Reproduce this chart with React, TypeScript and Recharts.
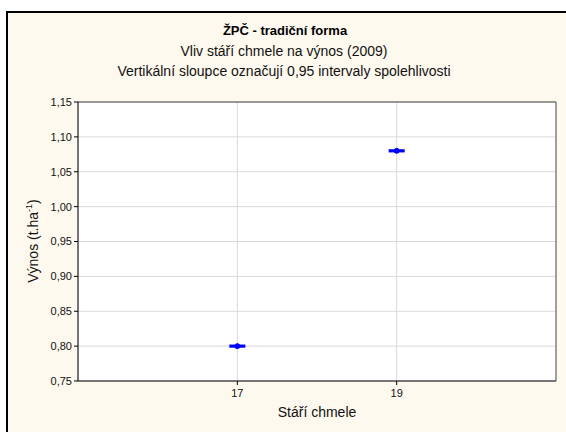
import React from 'react';
import { ComposedChart, Scatter, XAxis, YAxis, CartesianGrid, ErrorBar, ReferenceLine } from 'recharts';

const ages = [17, 19];
const yields = [0.8, 1.08];
const ciErrors = [0.001, 0.001];
const yTicks = [0.75, 0.8, 0.85, 0.9, 0.95, 1.0, 1.05, 1.1, 1.15];
const xTicks = [17, 19];

const data = ages.map((a, i) => ({ age: a, yield: yields[i], err: ciErrors[i] }));

const FONT = '"Liberation Sans", Arial, sans-serif';
const fmt = (v: number) => v.toFixed(2).replace('.', ',');

const Dot = (props: any) => {
  const { cx, cy } = props;
  return <circle cx={cx} cy={cy} r={2.5} fill="#0000FF" stroke="#0000FF" strokeWidth={1} />;
};

export default function App() {
  return (
    <div style={{ position: 'absolute', left: 0, top: 0, width: 566, height: 432, overflow: 'hidden', background: '#ffffff', fontFamily: FONT }}>
      <div style={{ position: 'absolute', left: 6, top: 11, width: 600, height: 460, border: '2px solid #000', background: '#FEF9EE', boxSizing: 'border-box' }} />
      <div style={{ position: 'absolute', left: 0, width: 570, top: 23, textAlign: 'center', fontSize: 13, lineHeight: '15px', fontWeight: 'bold', color: '#000' }}>ŽPČ - tradiční forma</div>
      <div style={{ position: 'absolute', left: 0, width: 568, top: 43, textAlign: 'center', fontSize: 14, lineHeight: '16px', color: '#111' }}>Vliv stáří chmele na výnos (2009)</div>
      <div style={{ position: 'absolute', left: 0, width: 568, top: 63, textAlign: 'center', fontSize: 14, lineHeight: '16px', color: '#111' }}>Vertikální sloupce označují 0,95 intervaly spolehlivosti</div>
      <div style={{ position: 'absolute', left: 0, top: 0 }}>
        <ComposedChart width={566} height={432} data={data} margin={{ top: 102, right: 10, left: 0, bottom: 0 }}>
          <CartesianGrid yAxisId="left" stroke="#D9D9D9" strokeWidth={1} horizontal={true} vertical={true} fill="#ffffff" />
          <XAxis
            dataKey="age"
            type="number"
            domain={[15, 21]}
            ticks={xTicks}
            height={51}
            stroke="#000"
            tickSize={4}
            tick={{ fontSize: 11, fill: '#111', fontFamily: FONT, dy: 2 }}
            tickLine={{ stroke: '#000' }}
            label={{ value: 'Stáří chmele', position: 'insideTop', offset: 26, fontSize: 14, fill: '#111', fontFamily: FONT }}
            allowDataOverflow
          />
          <YAxis
            yAxisId="left"
            type="number"
            domain={[0.75, 1.15]}
            ticks={yTicks}
            width={78}
            stroke="#000"
            tickSize={4}
            tickFormatter={fmt}
            tick={{ fontSize: 11, fill: '#111', fontFamily: FONT }}
            allowDataOverflow
            label={(p: any) => (
              <text x={38} y={241} transform="rotate(-90 38 241)" textAnchor="middle" fontSize={14} fill="#111" fontFamily={FONT}>
                <tspan>Výnos (t.ha</tspan>
                <tspan dy={-6} fontSize={9}>-1</tspan>
                <tspan dy={6}>)</tspan>
              </text>
            )}
          />
          <YAxis
            yAxisId="right"
            orientation="right"
            type="number"
            domain={[0.75, 1.15]}
            ticks={yTicks}
            width={10}
            stroke="#555"
            tickSize={3}
            mirror
            tick={false}
            axisLine={{ stroke: '#555' }}
          />
          <ReferenceLine yAxisId="left" y={1.15} stroke="#444" strokeWidth={1} />
          <Scatter yAxisId="left" dataKey="yield" fill="#0000FF" shape={Dot} isAnimationActive={false}>
            <ErrorBar dataKey="err" direction="y" width={8} strokeWidth={1.8} stroke="#0000FF" />
          </Scatter>
        </ComposedChart>
      </div>
    </div>
  );
}
